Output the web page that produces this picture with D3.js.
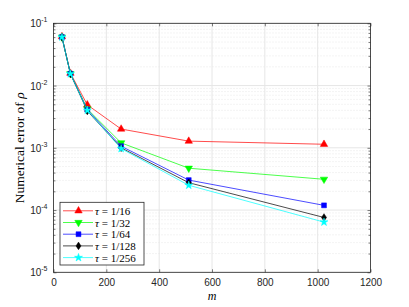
<!DOCTYPE html>
<html>
<head>
<meta charset="utf-8">
<script src="https://cdn.jsdelivr.net/npm/d3@7"></script>
<style>
body { margin: 0; background: #fff; }
svg text { fill: #262626; }
</style>
</head>
<body>
<div id="chart"></div>
<script>
'use strict'

// mesh sizes
var mValues = [32, 64, 128, 256, 512, 1024];

// error for each time step
var err16 = [0.061, 0.0158, 0.0049, 0.00200, 0.00128, 0.00114];
var err32 = [0.060, 0.0155, 0.0042, 0.00120, 0.00047, 0.000312];
var err64 = [0.060, 0.0155, 0.0041, 0.00106, 0.000303, 0.000119];
var err128 = [0.060, 0.0154, 0.0039, 0.00100, 0.000275, 0.0000760];
var err256 = [0.060, 0.0154, 0.0040, 0.00097, 0.000250, 0.0000640];

var seriesNames = ["\u03c4 = 1/16", "\u03c4 = 1/32", "\u03c4 = 1/64", "\u03c4 = 1/128", "\u03c4 = 1/256"];
var seriesColors = ["#ff0000", "#00ff00", "#0000ff", "#000000", "#00ffff"];
var seriesSymbols = ["up", "down", "square", "diamond", "star"];

var xTicks = [0, 200, 400, 600, 800, 1000, 1200];
var yTicks = [1e-5, 1e-4, 1e-3, 1e-2, 1e-1];

var width = 409, height = 307;
var pLeft = 53.5, pRight = 370.5, pTop = 23.3, pBottom = 272.3;

var svg = d3.select("#chart").append("svg").attr("width", width).attr("height", height);

var x = d3.scaleLinear().domain([0, 1200]).range([pLeft, pRight]);
var y = d3.scaleLog().domain([1e-5, 1e-1]).range([pBottom, pTop]);

// minor grid
var minor = [];
for (var e = -5; e < -1; e++) {
    for (var k = 2; k < 10; k++) minor.push(k * Math.pow(10, e));
}
svg.append("g").selectAll("line").data(minor).enter().append("line")
    .attr("x1", pLeft).attr("x2", pRight)
    .attr("y1", function(d) { return y(d); }).attr("y2", function(d) { return y(d); })
    .style("stroke", "#d8d8d8").style("stroke-width", 0.6).style("stroke-dasharray", "1,2");

// major grid
svg.append("g").selectAll("line").data(yTicks).enter().append("line")
    .attr("x1", pLeft).attr("x2", pRight)
    .attr("y1", function(d) { return y(d); }).attr("y2", function(d) { return y(d); })
    .style("stroke", "#e6e6e6").style("stroke-width", 1);
svg.append("g").selectAll("line").data(xTicks).enter().append("line")
    .attr("y1", pTop).attr("y2", pBottom)
    .attr("x1", function(d) { return x(d); }).attr("x2", function(d) { return x(d); })
    .style("stroke", "#e6e6e6").style("stroke-width", 1);

// axes
var noLabel = function() { return ""; };
svg.append("g").attr("transform", "translate(0," + pBottom + ")")
    .call(d3.axisBottom(x).tickValues(xTicks).tickSize(-3).tickPadding(7).tickFormat(d3.format("d")))
    .call(function(g) { g.select(".domain").remove(); });
svg.append("g").attr("transform", "translate(0," + pTop + ")")
    .call(d3.axisTop(x).tickValues(xTicks).tickSize(-3).tickFormat(noLabel))
    .call(function(g) { g.select(".domain").remove(); });

svg.append("g").attr("transform", "translate(" + pLeft + ",0)")
    .call(d3.axisLeft(y).tickValues(minor).tickSize(-2).tickFormat(noLabel))
    .call(function(g) { g.select(".domain").remove(); });
svg.append("g").attr("transform", "translate(" + pRight + ",0)")
    .call(d3.axisRight(y).tickValues(minor).tickSize(-2).tickFormat(noLabel))
    .call(function(g) { g.select(".domain").remove(); });
svg.append("g").attr("transform", "translate(" + pRight + ",0)")
    .call(d3.axisRight(y).tickValues(yTicks).tickSize(-3).tickFormat(noLabel))
    .call(function(g) { g.select(".domain").remove(); });
svg.append("g").attr("transform", "translate(" + pLeft + ",0)")
    .call(d3.axisLeft(y).tickValues(yTicks).tickSize(-3).tickFormat(noLabel))
    .call(function(g) { g.select(".domain").remove(); });

svg.selectAll(".tick line").style("stroke", "#262626").style("stroke-width", 0.6);
svg.selectAll(".tick text").style("font-family", "'Liberation Sans', Arial, sans-serif")
    .style("font-size", "10px").style("fill", "#262626");

// y tick labels 10^e
yTicks.forEach(function(v) {
    var t = svg.append("text").attr("x", pLeft - 6).attr("y", y(v) + 4)
        .attr("text-anchor", "end")
        .style("font-family", "'Liberation Sans', Arial, sans-serif").style("font-size", "10px");
    t.append("tspan").text("10");
    t.append("tspan").attr("dy", -5).style("font-size", "7px").text(String(Math.round(Math.log10(v))));
});

// box
svg.append("rect").attr("x", pLeft).attr("y", pTop).attr("width", pRight - pLeft).attr("height", pBottom - pTop)
    .style("fill", "none").style("stroke", "#262626").style("stroke-width", 0.8);

// series
var allSeries = [err16, err32, err64, err128, err256];
var line = d3.line().x(function(d, i) { return x(mValues[i]); }).y(function(d) { return y(d); });

function markerPath(sym) {
    if (sym === "up" || sym === "down") return d3.symbol().type(d3.symbolTriangle).size(24)();
    if (sym === "diamond") return "M0,-3.8L2.5,0L0,3.8L-2.5,0Z";
    if (sym === "star") return d3.symbol().type(d3.symbolStar).size(20)();
    return d3.symbol().type(d3.symbolSquare).size(24)();
}
function markerTransform(sym, px, py) {
    var s = "translate(" + px + "," + py + ")";
    if (sym === "down") s += " rotate(180)";
    return s;
}

allSeries.forEach(function(vals, si) {
    var g = svg.append("g");
    g.append("path").datum(vals).attr("d", line)
        .style("fill", "none").style("stroke", seriesColors[si]).style("stroke-width", 1)
        .style("stroke-opacity", 0.7);
    g.selectAll("path.mk").data(vals).enter().append("path").attr("class", "mk")
        .attr("d", markerPath(seriesSymbols[si]))
        .attr("transform", function(d, i) { return markerTransform(seriesSymbols[si], x(mValues[i]), y(d)); })
        .style("fill", seriesColors[si]).style("stroke", seriesColors[si]).style("stroke-width", 0.5);
});

// legend
var lgX = 60, lgY = 202.3, lgW = 84, lgH = 62.7;
svg.append("rect").attr("x", lgX).attr("y", lgY).attr("width", lgW).attr("height", lgH)
    .style("fill", "#fff").style("stroke", "#262626").style("stroke-width", 0.8);
seriesNames.forEach(function(name, si) {
    var ry = lgY + 8.5 + si * 11.7;
    svg.append("line").attr("x1", lgX + 3).attr("x2", lgX + 33).attr("y1", ry).attr("y2", ry)
        .style("stroke", seriesColors[si]).style("stroke-width", 1).style("stroke-opacity", 0.7);
    svg.append("path").attr("d", markerPath(seriesSymbols[si]))
        .attr("transform", markerTransform(seriesSymbols[si], lgX + 18.5, ry))
        .style("fill", seriesColors[si]).style("stroke", seriesColors[si]).style("stroke-width", 0.5);
    var t = svg.append("text").attr("x", lgX + 35).attr("y", ry + 4)
        .style("font-family", "'Liberation Serif', 'Times New Roman', serif").style("font-size", "11px")
        .style("fill", "#000");
    t.append("tspan").style("font-style", "italic").text(name.split(" ")[0]);
    t.append("tspan").text(name.slice(1));
});

// labels
svg.append("text").attr("x", (pLeft + pRight) / 2).attr("y", 300).attr("text-anchor", "middle")
    .style("font-family", "'Liberation Serif', 'Times New Roman', serif").style("font-size", "12px")
    .style("font-style", "italic").style("fill", "#000").text("m");
var yl = svg.append("text").attr("transform", "translate(24," + (pTop + pBottom) / 2 + ") rotate(-90)")
    .attr("text-anchor", "middle")
    .style("font-family", "'Liberation Serif', 'Times New Roman', serif").style("font-size", "13.5px")
    .style("fill", "#000");
yl.append("tspan").text("Numerical error of ");
yl.append("tspan").style("font-style", "italic").text("\u03c1");
</script>
</body>
</html>
